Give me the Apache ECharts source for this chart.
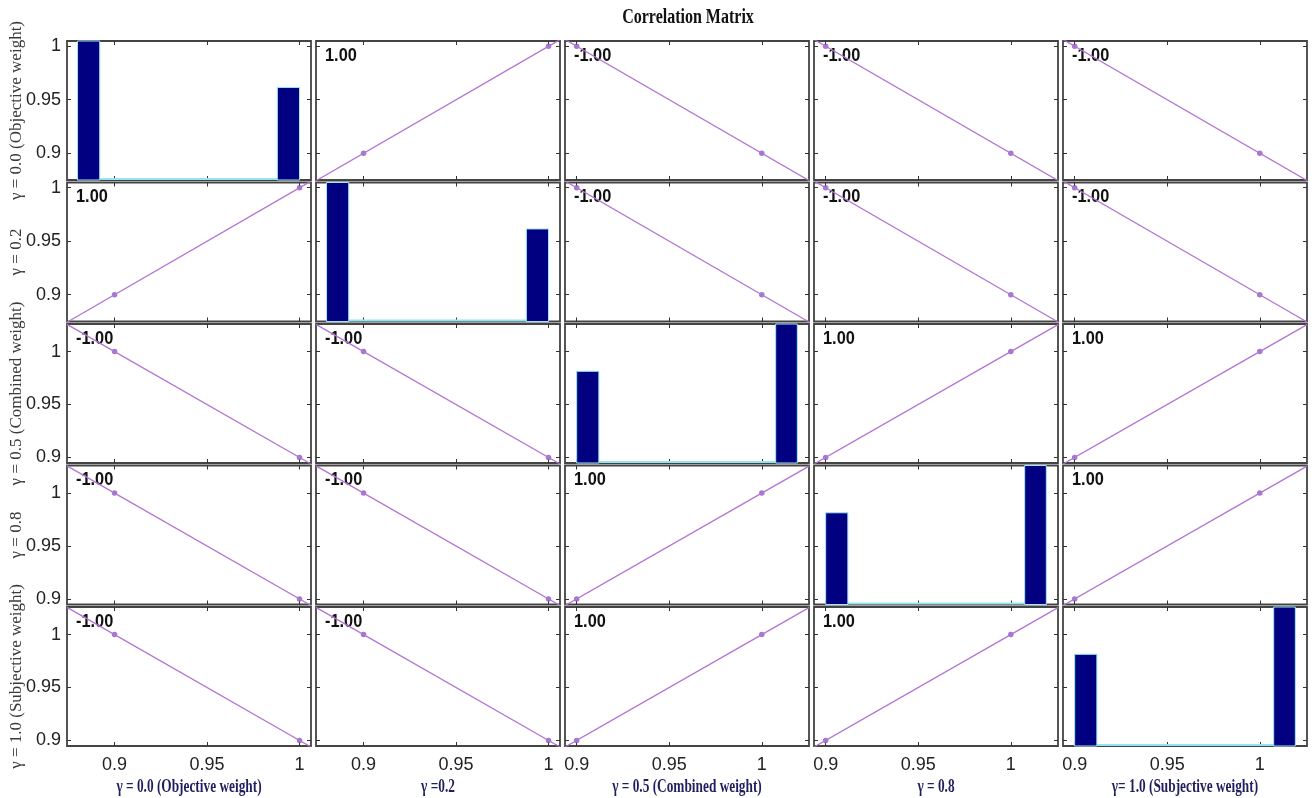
<!DOCTYPE html>
<html><head><meta charset="utf-8">
<script src="https://cdn.jsdelivr.net/npm/echarts@6/dist/echarts.min.js"></script>
<style>html,body{margin:0;padding:0;background:#fff}#c{width:1312px;height:798px}</style>
</head><body><div id="c"></div>
<script>
// ---- data ----
const rowLabels = ['γ = 0.0 (Objective weight)', 'γ = 0.2', 'γ = 0.5 (Combined weight)', 'γ = 0.8', 'γ = 1.0 (Subjective weight)'];
const colLabels = ['γ = 0.0 (Objective weight)', 'γ =0.2', 'γ = 0.5 (Combined weight)', 'γ = 0.8', 'γ= 1.0 (Subjective weight)'];
const tickValues = [0.9, 0.95, 1];

// observations of each variable
const obsG00 = [0.9, 1.0];
const obsG02 = [0.9, 1.0];
const obsG05 = [1.0, 0.9];
const obsG08 = [1.0, 0.9];
const obsG10 = [1.0, 0.9];

// histogram bars on the diagonal: [binLeft, binRight, barTop]
const histG00 = [[0.880, 0.892, 1.012], [0.988, 1.000, 0.9615]];
const histG02 = [[0.880, 0.892, 1.012], [0.988, 1.000, 0.9615]];
const histG05 = [[0.900, 0.912, 0.9814], [1.0075, 1.0192, 1.035]];
const histG08 = [[0.900, 0.912, 0.9814], [1.0075, 1.0192, 1.035]];
const histG10 = [[0.900, 0.912, 0.9814], [1.0075, 1.0192, 1.035]];

// axis limits per variable
const xLimits = [[0.8743, 1.0062], [0.8743, 1.0062], [0.8937, 1.0255], [0.8937, 1.0255], [0.8937, 1.0255]];
const yLimits = [[0.875, 1.0049], [0.875, 1.0049], [0.8947, 1.0261], [0.8947, 1.0261], [0.8947, 1.0261]];

// ---- layout / style ----
const obs = [obsG00, obsG02, obsG05, obsG08, obsG10];
const hists = [histG00, histG02, histG05, histG08, histG10];
const L0 = 67, T0 = 41, CW = 244, CH = 139, PX = 249, PY = 141.5;
const tickFont = '"Liberation Sans Narrow", "Liberation Sans", Arial, sans-serif';
const lineColor = '#b374d4', pointColor = '#8a58c0';

function mean(a){ return a.reduce((s,v)=>s+v,0)/a.length; }
function corr(a,b){
  const ma=mean(a), mb=mean(b); let sab=0,saa=0,sbb=0;
  for(let i=0;i<a.length;i++){ sab+=(a[i]-ma)*(b[i]-mb); saa+=(a[i]-ma)**2; sbb+=(b[i]-mb)**2; }
  return sab/Math.sqrt(saa*sbb);
}
function fit(x,y){
  const mx=mean(x), my=mean(y); let sxy=0,sxx=0;
  for(let i=0;i<x.length;i++){ sxy+=(x[i]-mx)*(y[i]-my); sxx+=(x[i]-mx)**2; }
  const b=sxy/sxx; return {a:my-b*mx, b:b};
}

const grids=[], xAxes=[], yAxes=[], series=[], graphics=[];

function histRender(params, api){
  const cs = params.coordSys;
  const bottom = cs.y + cs.height;
  const x0 = api.coord([api.value(0), 1])[0];
  const x1 = api.coord([api.value(1), 1])[0];
  if (api.value(3) === 0) {
    return {type:'line', shape:{x1:x0, y1:bottom-1, x2:x1, y2:bottom-1}, style:{stroke:'#93e4ee', lineWidth:2}};
  }
  const top = Math.max(cs.y, api.coord([api.value(0), api.value(2)])[1]);
  return {type:'rect', shape:{x:x0, y:top, width:x1-x0, height:bottom-top}, style:{fill:'#000080', stroke:'#9fe8f2', lineWidth:1}};
}

for (let r=0;r<5;r++){
  for (let c=0;c<5;c++){
    const idx = r*5+c;
    const left = L0 + c*PX, top = T0 + r*PY;
    grids.push({left:left, top:top, width:CW, height:CH, show:true, borderColor:'#444', borderWidth:1.8, backgroundColor:'#fff'});
    const tick = {show:true, inside:true, length:4, customValues:tickValues, lineStyle:{color:'#333', width:1}};
    xAxes.push({gridIndex:idx, type:'value', position:'bottom', min:xLimits[c][0], max:xLimits[c][1],
      axisLine:{show:false}, splitLine:{show:false}, axisTick:tick,
      axisLabel:{show:r===4, customValues:tickValues, margin:10, fontSize:18, color:'#222', fontFamily:tickFont}});
    xAxes.push({gridIndex:idx, type:'value', position:'top', min:xLimits[c][0], max:xLimits[c][1],
      axisLine:{show:false}, splitLine:{show:false}, axisTick:tick, axisLabel:{show:false}});
    yAxes.push({gridIndex:idx, type:'value', position:'left', min:yLimits[r][0], max:yLimits[r][1],
      axisLine:{show:false}, splitLine:{show:false}, axisTick:tick,
      axisLabel:{show:c===0, customValues:tickValues, margin:6, fontSize:18, color:'#222', fontFamily:tickFont}});
    yAxes.push({gridIndex:idx, type:'value', position:'right', min:yLimits[r][0], max:yLimits[r][1],
      axisLine:{show:false}, splitLine:{show:false}, axisTick:tick, axisLabel:{show:false}});
    const xi = 2*idx, yi = 2*idx;
    if (r===c){
      const h = hists[c];
      const data = [[h[0][0], h[h.length-1][1], 0, 0]].concat(h.map(b=>[b[0], b[1], b[2], 1]));
      series.push({type:'custom', xAxisIndex:xi, yAxisIndex:yi, renderItem:histRender, data:data,
        encode:{x:[0,1], y:2}, silent:true});
    } else {
      const xs = obs[c], ys = obs[r];
      const f = fit(xs, ys);
      const lx = xLimits[c];
      series.push({type:'line', xAxisIndex:xi, yAxisIndex:yi, clip:true, symbol:'none', silent:true,
        data:[[lx[0], f.a+f.b*lx[0]], [lx[1], f.a+f.b*lx[1]]], lineStyle:{color:lineColor, width:1.3}});
      series.push({type:'scatter', xAxisIndex:xi, yAxisIndex:yi, symbolSize:5.5, silent:true,
        data: xs.map((v,i)=>[v, ys[i]]), itemStyle:{color:pointColor}});
      graphics.push({type:'text', x:left+9, y:top+5, scaleX:0.86,
        style:{text:corr(xs,ys).toFixed(2), font:'bold 19px "Liberation Sans", Arial, sans-serif', fill:'#111', textAlign:'left', textVerticalAlign:'top'}});
    }
  }
}

graphics.push({type:'text', x:688, y:18, scaleX:0.8,
  style:{text:'Correlation Matrix', font:'bold 20px "Liberation Serif", "Times New Roman", serif', fill:'#111', textAlign:'center', textVerticalAlign:'middle'}});
for (let r=0;r<5;r++){
  graphics.push({type:'text', x:17, y:T0 + r*PY + CH/2, rotation:Math.PI/2,
    style:{text:rowLabels[r], font:'17px "Liberation Serif", "Times New Roman", serif', fill:'#3a3a3a', textAlign:'center', textVerticalAlign:'middle'}});
}
for (let c=0;c<5;c++){
  graphics.push({type:'text', x:L0 + c*PX + CW/2, y:787, scaleX:0.74,
    style:{text:colLabels[c], font:'bold 18px "Liberation Serif", "Times New Roman", serif', fill:'#1f1f5f', textAlign:'center', textVerticalAlign:'middle'}});
}

const chart = echarts.init(document.getElementById('c'), null, {renderer:'canvas'});
chart.setOption({animation:false, backgroundColor:'#fff', grid:grids, xAxis:xAxes, yAxis:yAxes, series:series, graphic:graphics});
</script></body></html>
